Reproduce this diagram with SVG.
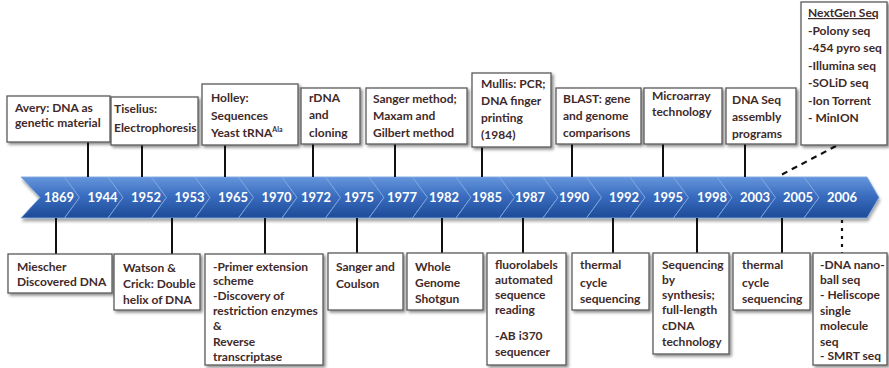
<svg xmlns="http://www.w3.org/2000/svg" width="889" height="368" viewBox="0 0 889 368">
  <defs>
    <linearGradient id="bandFill" x1="0" y1="0" x2="0" y2="1">
      <stop offset="0" stop-color="#6596dc"/>
      <stop offset="0.45" stop-color="#3a6dc0"/>
      <stop offset="1" stop-color="#1e4b97"/>
    </linearGradient>
    <filter id="boxShadow" x="-10%" y="-10%" width="125%" height="125%">
      <feDropShadow dx="2" dy="2" stdDeviation="1.4" flood-color="#000" flood-opacity="0.45"/>
    </filter>
    <filter id="bandShadow" x="-5%" y="-20%" width="110%" height="160%">
      <feDropShadow dx="1" dy="3" stdDeviation="1.8" flood-color="#000" flood-opacity="0.35"/>
    </filter>
    <!-- one chevron segment of the timeline band -->
    <path id="chev" d="M0,177 H43.5 L58.5,197.5 L43.5,218 H0 L15,197.5 Z"/>
  </defs>
  <style>
    .box { fill: #ffffff; stroke: #5a5a5a; stroke-width: 1.3; filter: url(#boxShadow); }
    .lbl { font-family: "Lato", "Liberation Sans", sans-serif; font-weight: bold; font-size: 12px; fill: #3f2a2a; }
    .yr { font-family: "Lato", "Liberation Sans", sans-serif; font-weight: bold; font-size: 13px; fill: #ffffff; text-anchor: middle; }
    .seg { fill: url(#bandFill); stroke: #7ea6df; stroke-width: 0.9; }
    .conn { stroke: #111111; stroke-width: 2; fill: none; }
    .dash { stroke: #111111; stroke-width: 2.2; fill: none; stroke-dasharray: 6 5; }
    .dot { stroke: #111111; stroke-width: 2.2; fill: none; stroke-dasharray: 3 5; }
  </style>

  <!-- timeline band -->
  <g id="timeline" filter="url(#bandShadow)">
    <path class="seg" d="M21,177 H64.5 L79.5,197.5 L64.5,218 H21 L40,197.5 Z"/>
    <use class="seg" href="#chev" x="64.5"/>
    <use class="seg" href="#chev" x="108"/>
    <use class="seg" href="#chev" x="151.5"/>
    <use class="seg" href="#chev" x="195"/>
    <use class="seg" href="#chev" x="238.5"/>
    <use class="seg" href="#chev" x="282"/>
    <use class="seg" href="#chev" x="325.5"/>
    <use class="seg" href="#chev" x="369"/>
    <use class="seg" href="#chev" x="412.5"/>
    <use class="seg" href="#chev" x="456"/>
    <use class="seg" href="#chev" x="499.5"/>
    <use class="seg" href="#chev" x="543"/>
    <use class="seg" href="#chev" x="586.5"/>
    <use class="seg" href="#chev" x="630"/>
    <use class="seg" href="#chev" x="673.5"/>
    <use class="seg" href="#chev" x="717"/>
    <use class="seg" href="#chev" x="760.5"/>
    <path class="seg" d="M804,177 H867 L879,197.5 L867,218 H804 L819,197.5 Z"/>
  </g>
  <g id="years">
    <text class="yr" x="59" y="202">1869</text>
    <text class="yr" x="102.5" y="202">1944</text>
    <text class="yr" x="146" y="202">1952</text>
    <text class="yr" x="189.5" y="202">1953</text>
    <text class="yr" x="233" y="202">1965</text>
    <text class="yr" x="276.5" y="202">1970</text>
    <text class="yr" x="316" y="202">1972</text>
    <text class="yr" x="359" y="202">1975</text>
    <text class="yr" x="402" y="202">1977</text>
    <text class="yr" x="444" y="202">1982</text>
    <text class="yr" x="487" y="202">1985</text>
    <text class="yr" x="530" y="202">1987</text>
    <text class="yr" x="574" y="202">1990</text>
    <text class="yr" x="624" y="202">1992</text>
    <text class="yr" x="668" y="202">1995</text>
    <text class="yr" x="712" y="202">1998</text>
    <text class="yr" x="755" y="202">2003</text>
    <text class="yr" x="798" y="202">2005</text>
    <text class="yr" x="842" y="202">2006</text>
  </g>

  <!-- connectors between boxes and the band -->
  <g id="connectors">
    <line class="conn" x1="88" y1="142" x2="88" y2="177"/>
    <line class="conn" x1="142" y1="145" x2="142" y2="177"/>
    <line class="conn" x1="225" y1="145" x2="225" y2="177"/>
    <line class="conn" x1="313" y1="144" x2="313" y2="177"/>
    <line class="conn" x1="395" y1="144" x2="395" y2="177"/>
    <line class="conn" x1="482" y1="147" x2="482" y2="177"/>
    <line class="conn" x1="572" y1="144" x2="572" y2="177"/>
    <line class="conn" x1="663" y1="144" x2="663" y2="177"/>
    <line class="conn" x1="745" y1="144" x2="745" y2="177"/>
    <line class="dash" x1="836" y1="146" x2="779" y2="176"/>
    <line class="conn" x1="56" y1="218" x2="56" y2="254"/>
    <line class="conn" x1="172" y1="218" x2="172" y2="254"/>
    <line class="conn" x1="265" y1="218" x2="265" y2="254"/>
    <line class="conn" x1="357" y1="218" x2="357" y2="253"/>
    <line class="conn" x1="442" y1="218" x2="442" y2="253"/>
    <line class="conn" x1="523" y1="218" x2="523" y2="253"/>
    <line class="conn" x1="613" y1="218" x2="613" y2="253"/>
    <line class="conn" x1="697" y1="218" x2="697" y2="253"/>
    <line class="conn" x1="782" y1="218" x2="782" y2="253"/>
    <line class="dot" x1="842" y1="220" x2="842" y2="253"/>
  </g>

  <!-- events above the band -->
  <g id="avery">
    <rect class="box" x="7" y="96" width="103" height="46"/>
    <text class="lbl" x="15"><tspan x="15" y="112">Avery: DNA as</tspan><tspan x="15" y="127">genetic material</tspan></text>
  </g>
  <g id="tiselius">
    <rect class="box" x="111" y="97" width="87" height="48"/>
    <text class="lbl"><tspan x="114" y="113">Tiselius:</tspan><tspan x="114" y="132">Electrophoresis</tspan></text>
  </g>
  <g id="holley">
    <rect class="box" x="202" y="84" width="96" height="61"/>
    <text class="lbl"><tspan x="211" y="102">Holley:</tspan><tspan x="211" y="120">Sequences</tspan><tspan x="211" y="137">Yeast tRNA</tspan><tspan dy="-5" font-size="7">Ala</tspan></text>
  </g>
  <g id="rdna">
    <rect class="box" x="301" y="88" width="59" height="56"/>
    <text class="lbl"><tspan x="309" y="102">rDNA</tspan><tspan x="309" y="119">and</tspan><tspan x="309" y="137">cloning</tspan></text>
  </g>
  <g id="sanger-maxam">
    <rect class="box" x="366" y="88" width="101" height="56"/>
    <text class="lbl"><tspan x="373" y="103">Sanger method;</tspan><tspan x="373" y="120">Maxam and</tspan><tspan x="373" y="137">Gilbert method</tspan></text>
  </g>
  <g id="mullis">
    <rect class="box" x="472" y="73" width="79" height="74"/>
    <text class="lbl"><tspan x="481" y="88">Mullis: PCR;</tspan><tspan x="481" y="105">DNA finger</tspan><tspan x="481" y="122">printing</tspan><tspan x="481" y="139">(1984)</tspan></text>
  </g>
  <g id="blast">
    <rect class="box" x="556" y="88" width="85" height="56"/>
    <text class="lbl"><tspan x="563" y="103">BLAST: gene</tspan><tspan x="563" y="120">and genome</tspan><tspan x="563" y="137">comparisons</tspan></text>
  </g>
  <g id="microarray">
    <rect class="box" x="644" y="88" width="78" height="56"/>
    <text class="lbl"><tspan x="652" y="100">Microarray</tspan><tspan x="652" y="116">technology</tspan></text>
  </g>
  <g id="dna-seq-assembly">
    <rect class="box" x="726" y="88" width="70" height="56"/>
    <text class="lbl"><tspan x="732" y="104">DNA Seq</tspan><tspan x="732" y="121">assembly</tspan><tspan x="732" y="138">programs</tspan></text>
  </g>
  <g id="nextgen">
    <rect class="box" x="801" y="2" width="86" height="143"/>
    <text class="lbl"><tspan x="808" y="17" text-decoration="underline">NextGen Seq</tspan><tspan x="808" y="34.5">-Polony seq</tspan><tspan x="808" y="52">-454 pyro seq</tspan><tspan x="808" y="69.5">-Illumina seq</tspan><tspan x="808" y="87">-SOLiD seq</tspan><tspan x="808" y="104.5">-Ion Torrent</tspan><tspan x="808" y="122">- MinION</tspan></text>
  </g>

  <!-- events below the band -->
  <g id="miescher">
    <rect class="box" x="8" y="254" width="104" height="39"/>
    <text class="lbl"><tspan x="17" y="271">Miescher</tspan><tspan x="17" y="286">Discovered DNA</tspan></text>
  </g>
  <g id="watson-crick">
    <rect class="box" x="114" y="254" width="86" height="56"/>
    <text class="lbl"><tspan x="123" y="272">Watson &amp;</tspan><tspan x="123" y="288">Crick: Double</tspan><tspan x="123" y="304">helix of DNA</tspan></text>
  </g>
  <g id="primer-extension">
    <rect class="box" x="205" y="254" width="118" height="111"/>
    <text class="lbl"><tspan x="213" y="271">-Primer extension</tspan><tspan x="213" y="285">scheme</tspan><tspan x="213" y="300">-Discovery of</tspan><tspan x="213" y="315">restriction enzymes</tspan><tspan x="213" y="330">&amp;</tspan><tspan x="213" y="346">Reverse</tspan><tspan x="213" y="361">transcriptase</tspan></text>
  </g>
  <g id="sanger-coulson">
    <rect class="box" x="328" y="253" width="75" height="57"/>
    <text class="lbl"><tspan x="336" y="271">Sanger and</tspan><tspan x="336" y="288">Coulson</tspan></text>
  </g>
  <g id="whole-genome">
    <rect class="box" x="407" y="253" width="76" height="57"/>
    <text class="lbl"><tspan x="415" y="271">Whole</tspan><tspan x="415" y="287">Genome</tspan><tspan x="415" y="303">Shotgun</tspan></text>
  </g>
  <g id="fluorolabels">
    <rect class="box" x="487" y="253" width="79" height="112"/>
    <text class="lbl"><tspan x="495" y="269">fluorolabels</tspan><tspan x="495" y="284">automated</tspan><tspan x="495" y="299">sequence</tspan><tspan x="495" y="314">reading</tspan><tspan x="495" y="340">-AB i370</tspan><tspan x="495" y="356">sequencer</tspan></text>
  </g>
  <g id="thermal-1992">
    <rect class="box" x="572" y="253" width="77" height="57"/>
    <text class="lbl"><tspan x="580" y="269">thermal</tspan><tspan x="580" y="287">cycle</tspan><tspan x="580" y="303">sequencing</tspan></text>
  </g>
  <g id="sbs">
    <rect class="box" x="653" y="253" width="76" height="101"/>
    <text class="lbl"><tspan x="662" y="269">Sequencing</tspan><tspan x="662" y="284">by</tspan><tspan x="662" y="299">synthesis;</tspan><tspan x="662" y="314">full-length</tspan><tspan x="662" y="330">cDNA</tspan><tspan x="662" y="346">technology</tspan></text>
  </g>
  <g id="thermal-2005">
    <rect class="box" x="733" y="253" width="77" height="57"/>
    <text class="lbl"><tspan x="742" y="269">thermal</tspan><tspan x="742" y="287">cycle</tspan><tspan x="742" y="303">sequencing</tspan></text>
  </g>
  <g id="dna-nanoball">
    <rect class="box" x="813" y="253" width="74" height="112"/>
    <text class="lbl"><tspan x="820" y="269">-DNA nano-</tspan><tspan x="820" y="284">ball seq</tspan><tspan x="820" y="299">- Heliscope</tspan><tspan x="820" y="315">single</tspan><tspan x="820" y="330">molecule</tspan><tspan x="820" y="346">seq</tspan><tspan x="820" y="360">- SMRT seq</tspan></text>
  </g>
</svg>
